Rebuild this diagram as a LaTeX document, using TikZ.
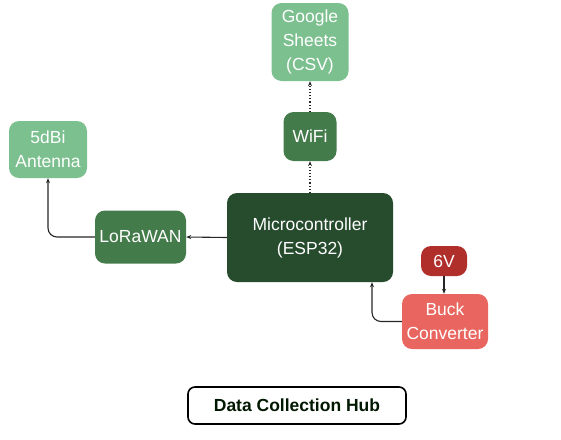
\documentclass[tikz,border=0pt]{standalone}
\usepackage{fontspec}
\setmainfont{Liberation Sans}
\usetikzlibrary{arrows.meta}
\definecolor{lightg}{HTML}{7CC08F}
\definecolor{midg}{HTML}{447B4B}
\definecolor{darkg}{HTML}{264B2D}
\definecolor{redd}{HTML}{B12F2A}
\definecolor{salmon}{HTML}{E8665F}
\tikzset{
  box/.style={rounded corners=10pt, draw=none, text=white, align=center, inner sep=0pt,
    font=\fontsize{17.5}{24}\selectfont},
  conn/.style={-{Stealth[length=5pt,width=4pt]}, line width=1.1pt, black!85},
  dotconn/.style={conn, dotted},
}
\begin{document}
\begin{tikzpicture}[x=1pt,y=-1pt]
\useasboundingbox (0,0) rectangle (561,439);
\node[box, fill=lightg, minimum width=77pt, minimum height=78pt] (gs) at (310,42) {Google\\Sheets\\(CSV)};
\node[box, fill=midg, minimum width=53pt, minimum height=49pt] (wifi) at (310,136.5) {WiFi};
\node[box, fill=darkg, minimum width=166pt, minimum height=89pt] (mc) at (310,237.5) {Microcontroller\\(ESP32)};
\node[box, fill=lightg, minimum width=78pt, minimum height=57pt] (ant) at (48,149.5) {5dBi\\Antenna};
\node[box, fill=midg, minimum width=91pt, minimum height=53pt] (lora) at (140.5,237) {LoRaWAN};
\node[box, fill=redd, minimum width=46pt, minimum height=30pt] (v6) at (444,261) {6V};
\node[box, fill=salmon, minimum width=86pt, minimum height=55pt] (buck) at (445,321.5) {Buck\\Converter};
\node[rounded corners=7pt, draw=black, line width=1.6pt, minimum width=218pt, minimum height=37pt,
  font=\bfseries\fontsize{17.5}{20}\selectfont, text=black!85!green!60!black] (title) at (297,405.5) {Data Collection Hub};
\draw[dotconn] (mc.north) -- (wifi.south);
\draw[dotconn] (wifi.north) -- (gs.south);
\draw[conn] (mc.west) -- (lora.east);
\draw[conn, rounded corners=9pt] (lora.west) -| (ant.south);
\coordinate (mcb) at (372,0);
\draw[conn, rounded corners=9pt] (buck.west) -| (mcb |- mc.south);
\draw[conn] (v6.south) -- (v6.south |- buck.north);
\end{tikzpicture}
\end{document}
